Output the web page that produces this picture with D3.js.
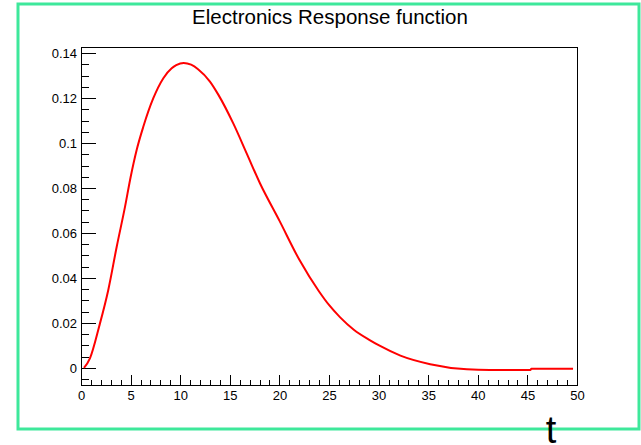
<!DOCTYPE html>
<html>
<head>
<meta charset="utf-8">
<script src="https://cdn.jsdelivr.net/npm/d3@7"></script>
<style>
  html, body { margin: 0; padding: 0; background: #fff; }
  svg { display: block; }
  text { font-family: "Liberation Sans", Arial, Helvetica, sans-serif; fill: #000; }
</style>
</head>
<body>
<svg id="chart" width="641" height="445"></svg>
<script>
// ---- data ----
const titleText = "Electronics Response function";
const xAxisTitle = "t";
const tValues = [0.3, 0.9, 1.85, 2.75, 3.6, 4.44, 5.0, 5.61, 6.28, 7.29, 8.3, 9.14, 9.6, 10.35, 11.1, 11.8, 13.0, 13.84, 15.35, 16.7, 18.04, 20.0, 22.0, 24.0, 25.0, 26.1, 27.5, 29.1, 30.1, 32.2, 35.2, 38.9, 41.2, 45.3, 45.4, 49.6];
const respValues = [0.0, 0.0043, 0.0188, 0.0347, 0.0539, 0.0717, 0.0848, 0.0969, 0.1072, 0.1199, 0.1288, 0.1332, 0.1346, 0.1356, 0.1348, 0.1328, 0.1273, 0.1215, 0.1087, 0.0954, 0.0821, 0.0655, 0.0482, 0.0340, 0.0280, 0.0226, 0.0170, 0.0124, 0.0099, 0.0055, 0.0017, -0.0006, -0.0009, -0.0009, -0.0003, -0.0003];
const xMajorTicks = [0, 5, 10, 15, 20, 25, 30, 35, 40, 45, 50];
const xMinorTicks = d3.range(0, 51, 1);
const yMajorTicks = [0, 0.02, 0.04, 0.06, 0.08, 0.1, 0.12, 0.14];
const yMajorLabels = ["0", "0.02", "0.04", "0.06", "0.08", "0.1", "0.12", "0.14"];
const yMinorTicks = d3.range(-0.005, 0.1426, 0.005);

const svg = d3.select("#chart");
const frame = { left: 81, right: 577, top: 47, bottom: 385 };

const x = d3.scaleLinear().domain([0, 50]).range([frame.left, frame.right]);
const y = d3.scaleLinear().domain([-0.00756, 0.14267]).range([frame.bottom, frame.top]);

// green pad border
svg.append("rect")
  .attr("x", 18).attr("y", 4).attr("width", 621).attr("height", 425)
  .attr("fill", "none").attr("stroke", "#3ee89b").attr("stroke-width", 3);

// frame
svg.append("rect")
  .attr("x", frame.left + 0.5).attr("y", frame.top + 0.5)
  .attr("width", frame.right - frame.left).attr("height", frame.bottom - frame.top)
  .attr("fill", "none").attr("stroke", "#000").attr("stroke-width", 1);

// x ticks (inward, upward)
const gx = svg.append("g").attr("shape-rendering", "crispEdges");
gx.selectAll("line.minor").data(xMinorTicks).join("line")
  .attr("x1", d => Math.round(x(d)) + 0.5).attr("x2", d => Math.round(x(d)) + 0.5)
  .attr("y1", frame.bottom).attr("y2", frame.bottom - 5)
  .attr("stroke", "#000");
gx.selectAll("line.major").data(xMajorTicks).join("line")
  .attr("x1", d => Math.round(x(d)) + 0.5).attr("x2", d => Math.round(x(d)) + 0.5)
  .attr("y1", frame.bottom).attr("y2", frame.bottom - 10)
  .attr("stroke", "#000");
svg.append("g").selectAll("text").data(xMajorTicks).join("text")
  .attr("x", d => x(d) + 0.5).attr("y", 399.5)
  .attr("text-anchor", "middle").attr("font-size", 13)
  .text(d => d);

// y ticks (inward, rightward)
const gy = svg.append("g").attr("shape-rendering", "crispEdges");
gy.selectAll("line.minor").data(yMinorTicks).join("line")
  .attr("x1", frame.left).attr("x2", frame.left + 8)
  .attr("y1", d => Math.round(y(d)) + 0.5).attr("y2", d => Math.round(y(d)) + 0.5)
  .attr("stroke", "#000");
gy.selectAll("line.major").data(yMajorTicks).join("line")
  .attr("x1", frame.left).attr("x2", frame.left + 15)
  .attr("y1", d => Math.round(y(d)) + 0.5).attr("y2", d => Math.round(y(d)) + 0.5)
  .attr("stroke", "#000");
svg.append("g").selectAll("text").data(yMajorTicks).join("text")
  .attr("x", frame.left - 4).attr("y", d => y(d) + 5)
  .attr("text-anchor", "end").attr("font-size", 13)
  .text((d, i) => yMajorLabels[i]);

// curve
const pts = tValues.map((t, i) => [t, respValues[i]]);
const line = d3.line().x(d => x(d[0])).y(d => y(d[1])).curve(d3.curveMonotoneX);
svg.append("path").datum(pts)
  .attr("d", line)
  .attr("fill", "none").attr("stroke", "#ff0000").attr("stroke-width", 2)
  .attr("stroke-linejoin", "round");

// title
svg.append("text")
  .attr("x", 330).attr("y", 24)
  .attr("text-anchor", "middle").attr("font-size", 20.5)
  .text(titleText);

// x axis title
svg.append("text")
  .attr("x", 551).attr("y", 443)
  .attr("text-anchor", "middle").attr("font-size", 38)
  .text(xAxisTitle);
</script>
</body>
</html>
